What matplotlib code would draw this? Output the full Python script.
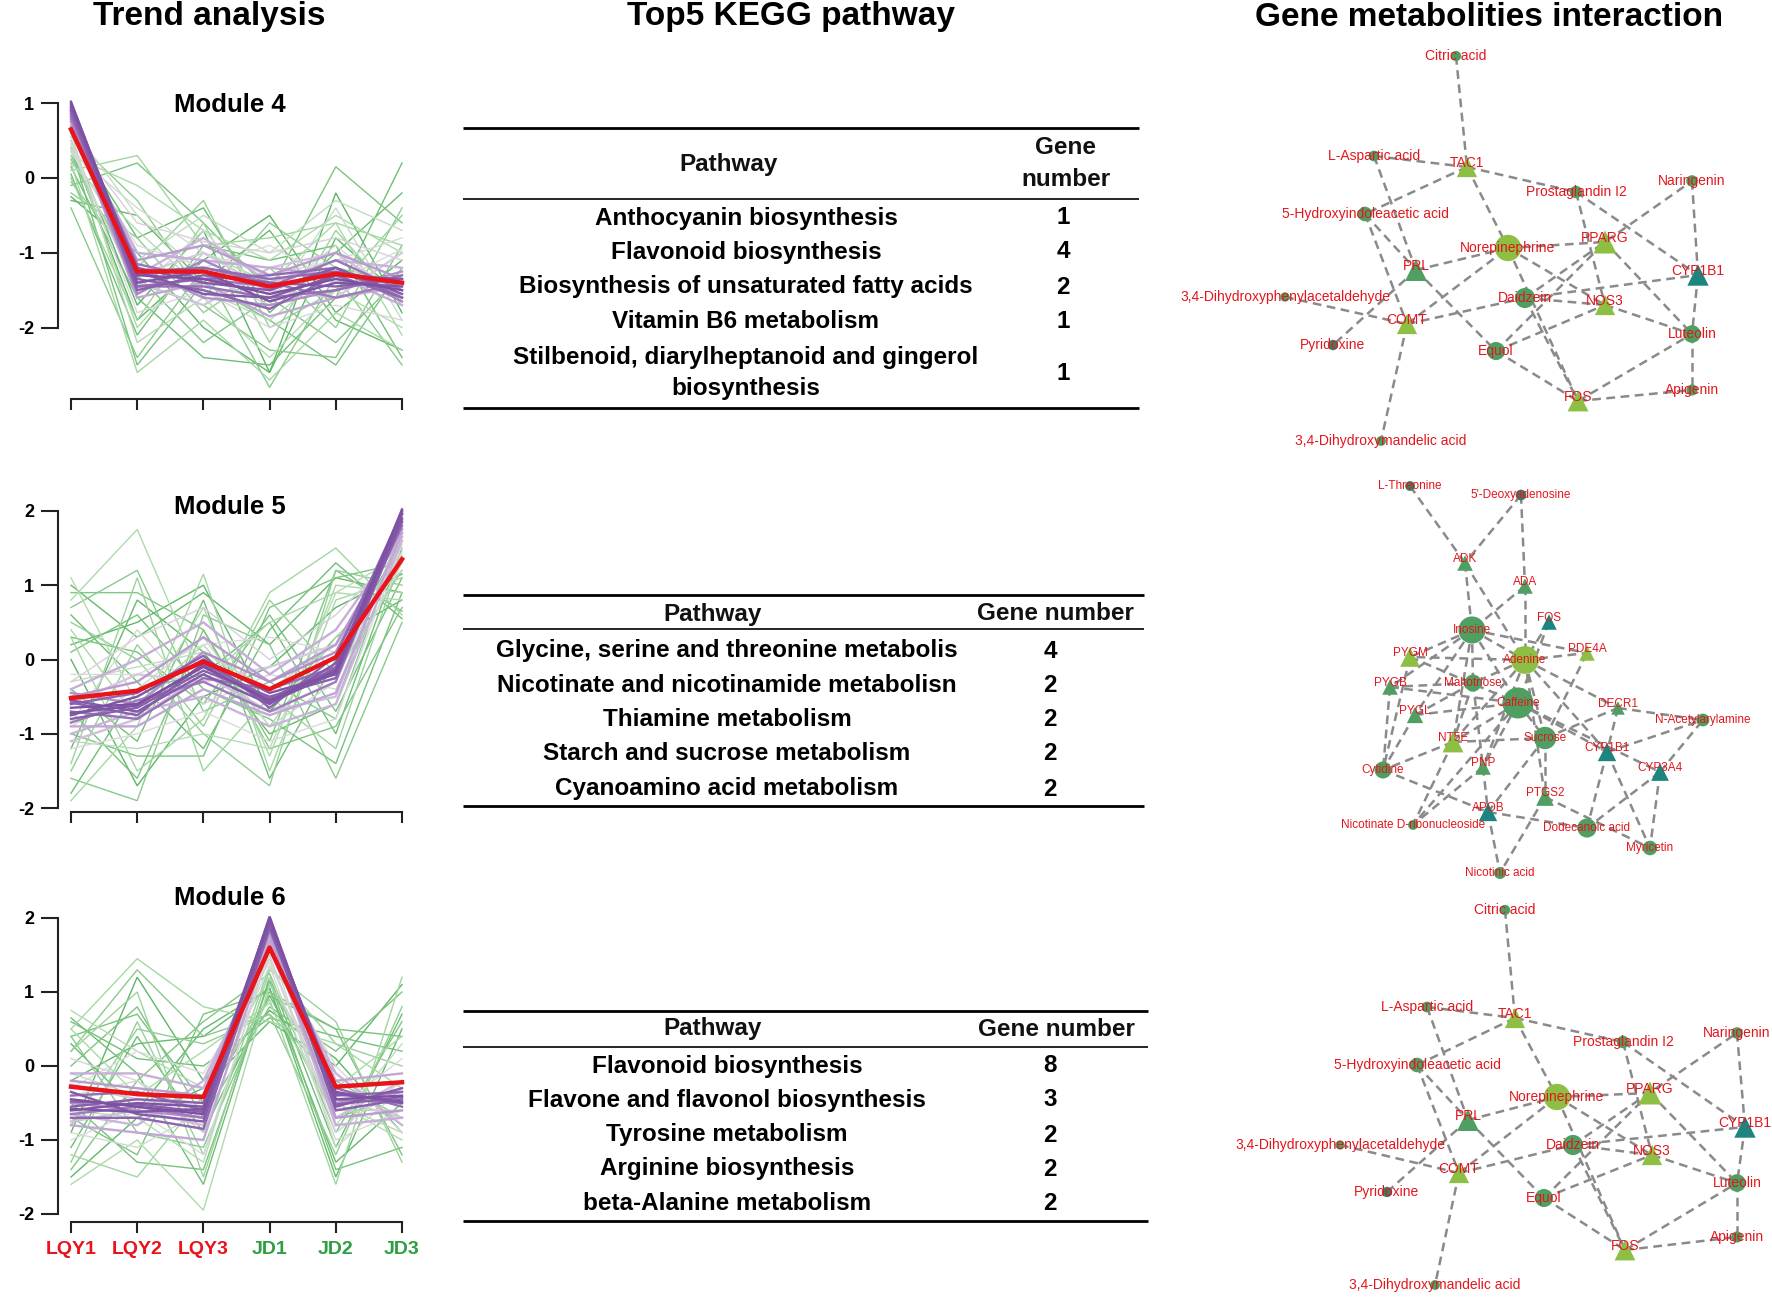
import numpy as np
import matplotlib
matplotlib.use("Agg")
import matplotlib.pyplot as plt
from matplotlib.colors import LinearSegmentedColormap, Normalize

plt.rcParams['font.family'] = ['Liberation Sans', 'DejaVu Sans']

W, H, DPI = 1772, 1297, 100

# ---------------- trend data (z-scores per sample) ----------------
samples = ["LQY1", "LQY2", "LQY3", "JD1", "JD2", "JD3"]
sample_colors = ["#e8131b", "#e8131b", "#e8131b", "#2e9e44", "#2e9e44", "#2e9e44"]

m4_profiles = [
    [1.02, -1.30, -1.35, -1.55, -1.35, -1.50],
    [0.98, -1.40, -1.25, -1.65, -1.40, -1.45],
    [0.95, -1.20, -1.40, -1.50, -1.20, -1.55],
    [0.92, -1.50, -1.30, -1.40, -1.45, -1.35],
    [0.90, -1.35, -1.50, -1.75, -1.30, -1.60],
    [0.88, -1.25, -1.20, -1.35, -1.25, -1.40],
    [0.85, -1.45, -1.45, -1.60, -1.50, -1.30],
    [0.82, -1.15, -1.35, -1.45, -1.10, -1.50],
    [0.80, -1.10, -0.90, -1.30, -1.00, -1.35],
    [0.75, -1.60, -1.40, -1.85, -1.60, -1.45],
    [0.70, -1.00, -1.10, -1.20, -1.30, -1.70],
    [0.65, -1.30, -0.80, -1.40, -1.10, -1.20],
    [0.55, -0.60, -0.85, -1.00, -0.80, -1.10],
    [0.50, -1.80, -1.50, -2.00, -1.70, -1.90],
    [0.45, -0.90, -1.20, -0.90, -1.40, -0.95],
    [0.40, -1.50, -0.70, -1.60, -0.90, -1.65],
    [0.35, -0.40, -1.00, -1.30, -1.10, -0.80],
    [0.60, -2.20, -1.60, -2.40, -1.50, -2.00],
    [0.30, -0.10, -0.70, -1.10, -0.50, -1.00],
    [0.20, -2.60, -1.90, -2.70, -1.80, -2.30],
    [0.10, 0.30, -0.90, -0.80, -0.60, -0.90],
    [0.00, -1.90, -0.60, -2.20, -0.70, -1.70],
    [-0.20, -0.80, -1.80, -1.20, -2.00, -0.40],
    [-0.40, -2.40, -1.20, -2.80, -1.30, -2.50],
    [0.25, -1.30, -2.20, -1.60, -2.20, -1.30],
    [-0.10, 0.20, -0.60, -1.50, 0.15, -0.60],
    [0.40, -2.50, -1.40, -1.90, -2.50, -1.20],
    [0.15, -1.60, -2.40, -2.50, -1.60, 0.20],
    [-0.30, -0.50, -1.40, -0.70, -1.90, -2.30],
    [0.50, -1.70, -0.70, -2.60, -0.20, -1.80],
    [0.35, -1.10, -0.50, -1.00, -0.30, -0.70],
    [0.20, -0.70, -1.50, -1.90, -1.20, -1.50],
    [0.45, -2.00, -1.00, -1.40, -0.60, -2.10],
    [-0.05, -1.20, -0.30, -2.00, -1.50, -0.50],
    [0.55, -0.30, -1.60, -0.60, -1.20, -1.40],
    [0.30, -1.40, -1.70, -2.30, -2.40, -0.90],
    [0.05, -2.10, -0.90, -1.10, -0.90, -2.40],
    [0.60, -0.80, -0.40, -1.80, -1.00, -0.20],
    [-0.25, -1.00, -2.00, -2.60, -0.80, -1.60],
    [0.40, -1.90, -1.10, -0.50, -1.80, -1.10],
    [0.70, -0.50, -1.30, -1.70, -0.40, -1.90],
    [0.75, -1.30, -1.00, -1.50, -1.60, -1.00],
    [0.68, -1.40, -1.70, -1.20, -1.00, -1.60],
    [0.85, -1.20, -1.60, -1.70, -1.50, -1.25],
    [0.78, -1.55, -1.10, -1.50, -1.20, -1.65],
    [0.95, -1.30, -1.20, -1.40, -1.60, -1.40],
    [1.00, -1.25, -1.55, -1.60, -1.30, -1.35],
    [0.90, -1.45, -1.35, -1.30, -1.20, -1.60],
]
m4_member = [0.98, 0.97, 0.96, 0.95, 0.94, 0.93, 0.92, 0.91,
             0.84, 0.82, 0.80, 0.78,
             0.68, 0.66, 0.64, 0.62, 0.60,
             0.50, 0.48, 0.46, 0.45, 0.44, 0.42, 0.40, 0.38, 0.37, 0.36, 0.34, 0.32, 0.30,
             0.55, 0.52, 0.47, 0.43, 0.41, 0.39, 0.35, 0.33, 0.31, 0.30,
             0.58, 0.70, 0.72, 0.86, 0.88, 0.90, 0.96, 0.93]
m4_center = [0.65, -1.25, -1.25, -1.45, -1.28, -1.40]

m5_profiles = [
    [-0.65, -0.60, -0.10, -0.55, -0.15, 2.02],
    [-0.75, -0.50, 0.00, -0.45, -0.20, 1.90],
    [-0.55, -0.70, -0.20, -0.60, -0.05, 1.95],
    [-0.80, -0.65, -0.15, -0.50, -0.25, 1.85],
    [-0.60, -0.45, 0.05, -0.65, 0.05, 1.98],
    [-0.70, -0.80, -0.25, -0.40, -0.10, 1.80],
    [-0.50, -0.30, 0.30, -0.30, 0.20, 1.75],
    [-0.90, -0.90, -0.40, -0.75, -0.45, 1.70],
    [-0.40, 0.00, 0.50, -0.20, 0.40, 1.65],
    [-1.00, -0.70, -0.50, -0.90, -0.60, 1.60],
    [-0.30, 0.30, 0.70, 0.00, 0.60, 1.50],
    [-1.20, -1.00, -0.70, -1.10, -0.80, 1.55],
    [-0.20, -0.20, 0.20, 0.30, 0.10, 1.40],
    [-0.85, 0.40, -0.60, -0.20, -0.40, 1.30],
    [1.10, -0.60, 0.20, -0.90, 0.30, 1.20],
    [0.80, 1.75, -0.30, 0.50, 0.90, 0.80],
    [-1.90, -0.90, 1.15, -1.50, 0.80, 1.10],
    [0.30, -1.50, -0.80, 0.90, 1.50, 0.60],
    [-1.40, 1.10, -1.50, -0.50, -1.20, 1.40],
    [0.50, 0.00, -1.00, -1.70, 1.20, 1.00],
    [-1.60, -1.90, 0.60, 0.20, -1.60, 0.50],
    [0.90, 0.90, 0.40, -1.20, -0.90, 0.70],
    [-1.00, -1.30, -1.30, 0.70, 1.10, 1.30],
    [0.10, 0.60, -0.40, -0.80, -1.40, 0.90],
    [-0.40, -1.10, 0.80, -1.60, 0.00, 1.60],
    [0.60, -0.30, -1.20, 0.40, 1.30, 0.55],
    [-1.20, 0.80, 0.10, -1.00, -0.60, 1.80],
    [0.00, -1.70, -0.50, -0.10, 0.70, 1.15],
    [-0.30, -0.10, 0.10, -0.40, 0.20, 1.45],
    [0.40, -0.80, 0.70, -1.30, 1.00, 0.90],
    [-1.50, 0.20, -0.90, 0.80, -0.20, 1.20],
    [0.70, 1.20, -0.70, -0.30, -0.80, 1.70],
    [-0.70, -1.60, 0.40, -1.10, 1.20, 0.65],
    [-1.80, -0.40, -0.20, 0.50, -1.00, 1.50],
    [0.20, 0.50, 1.00, -0.70, 0.30, 0.80],
    [-1.10, -1.20, -1.00, -1.20, 0.90, 1.40],
    [-0.90, -0.40, 0.30, -0.90, -0.30, 1.65],
    [-0.60, -0.20, -0.30, -0.10, 0.20, 1.70],
    [-1.10, -0.80, -0.20, -0.70, -0.50, 1.75],
    [-0.45, -0.60, 0.10, -0.30, 0.10, 1.85],
    [-0.85, -0.55, -0.30, -0.70, -0.30, 1.88],
    [-0.58, -0.75, -0.05, -0.52, -0.12, 1.96],
    [-0.72, -0.62, -0.08, -0.58, -0.18, 2.00],
    [0.30, 0.10, -0.60, 0.60, -0.70, 1.10],
    [1.00, 0.30, 0.90, 0.20, 1.10, 0.90],
]
m5_member = [0.98, 0.97, 0.96, 0.95, 0.94, 0.92,
             0.84, 0.82, 0.80, 0.78,
             0.68, 0.65, 0.63, 0.60,
             0.50, 0.48, 0.46, 0.45, 0.44, 0.42, 0.40, 0.38, 0.37, 0.36, 0.35, 0.34, 0.32, 0.30,
             0.55, 0.47, 0.43, 0.40, 0.37, 0.34, 0.31, 0.52, 0.58, 0.70, 0.74, 0.86, 0.90,
             0.95, 0.97, 0.36, 0.32]
m5_center = [-0.52, -0.42, -0.03, -0.40, 0.03, 1.35]

m6_profiles = [
    [-0.45, -0.55, -0.65, 2.02, -0.45, -0.40],
    [-0.60, -0.50, -0.55, 1.95, -0.35, -0.50],
    [-0.35, -0.65, -0.75, 1.90, -0.55, -0.30],
    [-0.55, -0.45, -0.50, 1.98, -0.60, -0.45],
    [-0.70, -0.70, -0.85, 1.85, -0.40, -0.35],
    [-0.40, -0.35, -0.60, 1.92, -0.30, -0.55],
    [-0.20, -0.30, -0.40, 1.80, -0.70, -0.60],
    [-0.80, -0.90, -1.00, 1.70, -0.20, -0.10],
    [-0.10, -0.10, -0.30, 1.75, -0.80, -0.70],
    [-0.65, -0.80, -0.20, 1.65, -0.10, -0.80],
    [0.10, -0.20, -0.90, 1.50, -0.90, -0.20],
    [-1.00, -0.60, -1.20, 1.55, 0.00, -0.90],
    [-0.30, 0.20, -0.10, 1.40, -0.60, 0.10],
    [-0.90, -1.10, -0.60, 1.35, -1.00, -0.60],
    [0.75, 0.20, -0.30, 1.20, -0.50, -1.00],
    [-1.60, -1.00, -1.95, 1.10, -0.30, 0.40],
    [0.50, 1.45, 0.80, 0.60, 0.30, -0.30],
    [-1.20, -1.50, -0.40, 0.90, -1.60, 1.20],
    [0.20, 1.00, -1.50, 1.30, 0.60, -1.30],
    [-0.80, 0.50, 0.30, 0.70, -1.20, 0.80],
    [0.40, -0.90, -1.10, 1.00, -0.10, -0.80],
    [-1.40, -0.20, 0.60, 1.25, -0.90, 0.60],
    [0.00, 0.80, -0.70, 0.80, 0.20, 1.00],
    [-0.50, -1.30, -1.40, 1.15, -1.40, -1.10],
    [0.60, 0.10, 0.00, 0.65, 0.40, 0.20],
    [-1.10, 0.40, -0.90, 0.95, -0.70, -0.40],
    [0.30, -0.60, 0.50, 1.05, -1.50, 0.50],
    [-0.90, 1.20, -0.20, 0.75, 0.10, -0.90],
    [-0.10, -0.40, -0.50, 1.45, -0.80, 0.30],
    [0.50, -0.40, 0.20, 0.85, -0.60, -0.60],
    [-1.30, 0.60, -1.20, 1.35, 0.30, 0.00],
    [0.20, 1.30, 0.40, 0.70, -0.20, -0.70],
    [-0.70, -1.20, 0.70, 1.00, 0.50, -1.20],
    [0.65, -0.10, -1.60, 1.20, -1.10, 0.70],
    [-1.50, -0.70, -0.30, 0.60, 0.00, 1.10],
    [-0.60, -0.70, -1.30, 1.60, -0.50, -0.90],
    [-0.40, -0.20, -0.70, 1.65, -1.10, -0.30],
    [-0.25, -0.45, -0.55, 1.72, -0.45, -0.70],
    [-0.75, -0.60, -0.80, 1.78, -0.70, -0.20],
    [-0.50, -0.60, -0.70, 1.88, -0.50, -0.35],
    [-0.65, -0.55, -0.70, 1.95, -0.45, -0.50],
    [-0.48, -0.52, -0.62, 2.00, -0.52, -0.42],
    [-0.58, -0.62, -0.58, 1.97, -0.38, -0.48],
    [0.40, 0.70, -0.50, 0.95, 0.50, 0.40],
    [-0.20, 0.30, 0.40, 1.05, -1.30, -0.50],
]
m6_member = m5_member
m6_center = [-0.28, -0.38, -0.42, 1.60, -0.28, -0.22]

# ---------------- KEGG tables ----------------
t1_pathways = ["Anthocyanin biosynthesis", "Flavonoid biosynthesis",
               "Biosynthesis of unsaturated fatty acids", "Vitamin B6 metabolism",
               "Stilbenoid, diarylheptanoid and gingerol\nbiosynthesis"]
t1_genes = [1, 4, 2, 1, 1]
t2_pathways = ["Glycine, serine and threonine metabolis",
               "Nicotinate and nicotinamide metabolisn", "Thiamine metabolism",
               "Starch and sucrose metabolism", "Cyanoamino acid metabolism"]
t2_genes = [4, 2, 2, 2, 2]
t3_pathways = ["Flavonoid biosynthesis", "Flavone and flavonol biosynthesis",
               "Tyrosine metabolism", "Arginine biosynthesis", "beta-Alanine metabolism"]
t3_genes = [8, 3, 2, 2, 2]

# ---------------- networks (layout positions) ----------------
netA_names = ["Citric acid", "L-Aspartic acid", "TAC1", "5-Hydroxyindoleacetic acid",
              "Norepinephrine", "PRL", "3,4-Dihydroxyphenylacetaldehyde", "COMT",
              "Pyridoxine", "Daidzein", "Equol", "Prostaglandin I2", "Naringenin",
              "PPARG", "CYP1B1", "NOS3", "Luteolin", "FOS", "Apigenin",
              "3,4-Dihydroxymandelic acid"]
netA_kind = ["o", "o", "^", "o", "o", "^", "o", "^", "o", "o", "o", "o", "o",
             "^", "^", "^", "o", "^", "o", "o"]
netA_col = ["g", "g", "yg", "g", "yg", "g", "g", "yg", "dg", "g", "g", "g", "g",
            "yg", "teal", "yg", "g", "yg", "g", "g"]
netA_size = [55, 60, 170, 110, 360, 200, 45, 170, 55, 210, 170, 80, 70,
             220, 190, 170, 160, 180, 65, 50]
net1_x = [1456, 1374, 1467, 1365, 1508, 1416, 1285, 1407, 1333, 1525, 1496, 1576, 1692,
          1605, 1698, 1605, 1692, 1578, 1692, 1381]
net1_y = [56, 156, 167, 214, 248, 270, 297, 324, 345, 298, 351, 192, 181,
          242, 275, 305, 334, 401, 390, 441]
net3_x = [1505, 1427, 1515, 1417, 1557, 1468, 1340, 1459, 1387, 1573, 1544, 1623, 1737,
          1650, 1745, 1652, 1737, 1625, 1737, 1435]
net3_y = [910, 1007, 1018, 1065, 1097, 1120, 1145, 1173, 1192, 1145, 1198, 1042, 1033,
          1093, 1127, 1155, 1183, 1250, 1237, 1285]
netA_edges = [
    ("Citric acid", "TAC1"), ("L-Aspartic acid", "TAC1"), ("L-Aspartic acid", "PRL"),
    ("TAC1", "5-Hydroxyindoleacetic acid"), ("TAC1", "Prostaglandin I2"),
    ("TAC1", "Norepinephrine"), ("Prostaglandin I2", "CYP1B1"), ("Prostaglandin I2", "NOS3"),
    ("5-Hydroxyindoleacetic acid", "PRL"), ("5-Hydroxyindoleacetic acid", "COMT"),
    ("PRL", "Norepinephrine"), ("PRL", "Pyridoxine"), ("PRL", "Equol"),
    ("3,4-Dihydroxyphenylacetaldehyde", "COMT"), ("COMT", "Norepinephrine"),
    ("COMT", "Daidzein"), ("COMT", "3,4-Dihydroxymandelic acid"),
    ("Norepinephrine", "PPARG"), ("Norepinephrine", "NOS3"), ("Norepinephrine", "FOS"),
    ("Daidzein", "FOS"), ("Daidzein", "CYP1B1"), ("Daidzein", "NOS3"),
    ("Daidzein", "Naringenin"), ("Equol", "PPARG"), ("Equol", "NOS3"), ("Equol", "FOS"),
    ("Naringenin", "CYP1B1"), ("PPARG", "Luteolin"), ("NOS3", "Luteolin"),
    ("CYP1B1", "Luteolin"), ("Luteolin", "Apigenin"), ("FOS", "Luteolin"),
    ("FOS", "Apigenin"),
]

net2_names = ["L-Threonine", "5'-Deoxyadenosine", "ADK", "ADA", "FOS", "Inosine",
              "Adenine", "PYGM", "PYGB", "Maltotriose", "Caffeine", "PYGL", "NT5E",
              "Sucrose", "Cytidine", "PNP", "PTGS2", "PDE4A", "DECR1", "N-Acetylarylamine",
              "CYP1B1", "CYP3A4", "APOB", "Nicotinate D-ribonucleoside", "Dodecanoic acid",
              "Myricetin", "Nicotinic acid"]
net2_kind = ["o", "o", "^", "^", "^", "o", "o", "^", "^", "o", "o", "^", "^",
             "o", "o", "^", "^", "^", "^", "o", "^", "^", "^", "o", "o", "o", "o"]
net2_col = ["dg", "dg", "g", "g", "teal", "g", "yg", "yg", "g", "g", "g", "g", "yg",
            "g", "g", "g", "g", "yg", "g", "g", "teal", "teal", "teal", "g", "g", "g", "g"]
net2_size = [50, 60, 100, 100, 100, 380, 400, 160, 100, 150, 500, 110, 180,
             260, 150, 100, 130, 100, 75, 85, 140, 130, 140, 50, 190, 110, 75]
net2_x = [1410, 1521, 1465, 1525, 1549, 1472, 1525, 1410, 1390, 1473, 1518, 1415, 1453,
          1545, 1383, 1483, 1545, 1587, 1618, 1703, 1607, 1660, 1488, 1413, 1587, 1650, 1500]
net2_y = [486, 495, 563, 586, 622, 630, 660, 657, 687, 683, 703, 715, 742,
          738, 770, 767, 797, 653, 708, 720, 752, 772, 812, 825, 828, 848, 873]
net2_edges = [
    ("L-Threonine", "ADK"), ("5'-Deoxyadenosine", "ADK"), ("5'-Deoxyadenosine", "ADA"),
    ("ADA", "Adenine"), ("ADK", "Inosine"), ("ADK", "Adenine"), ("ADA", "Inosine"),
    ("FOS", "Adenine"), ("FOS", "Caffeine"), ("Inosine", "PYGM"), ("Inosine", "PYGB"),
    ("Inosine", "PYGL"), ("Inosine", "Maltotriose"), ("Inosine", "Adenine"),
    ("Inosine", "NT5E"), ("Inosine", "PDE4A"), ("Inosine", "Caffeine"),
    ("Adenine", "PYGM"), ("Adenine", "Maltotriose"), ("Adenine", "NT5E"),
    ("Adenine", "PNP"), ("Adenine", "Sucrose"), ("Adenine", "PDE4A"),
    ("Adenine", "CYP1B1"), ("Adenine", "PTGS2"), ("Adenine", "DECR1"),
    ("PYGM", "Cytidine"), ("PYGM", "Caffeine"), ("PYGB", "Maltotriose"),
    ("PYGB", "Caffeine"), ("PYGB", "Cytidine"), ("PYGL", "Caffeine"), ("PYGL", "Cytidine"),
    ("PYGL", "Maltotriose"), ("Maltotriose", "NT5E"), ("Maltotriose", "PNP"),
    ("Caffeine", "NT5E"), ("Caffeine", "CYP1B1"), ("Caffeine", "PNP"),
    ("Caffeine", "Sucrose"), ("Caffeine", "CYP3A4"), ("Caffeine", "Nicotinate D-ribonucleoside"),
    ("NT5E", "Sucrose"), ("NT5E", "Cytidine"), ("NT5E", "Nicotinate D-ribonucleoside"),
    ("Sucrose", "PTGS2"), ("Sucrose", "DECR1"), ("Sucrose", "APOB"), ("Sucrose", "PDE4A"),
    ("Cytidine", "APOB"), ("PNP", "APOB"), ("PNP", "Nicotinate D-ribonucleoside"),
    ("APOB", "Nicotinic acid"), ("APOB", "Dodecanoic acid"), ("PTGS2", "Nicotinic acid"),
    ("PTGS2", "Myricetin"), ("DECR1", "CYP1B1"), ("DECR1", "N-Acetylarylamine"),
    ("CYP1B1", "N-Acetylarylamine"), ("CYP1B1", "Dodecanoic acid"), ("CYP1B1", "Myricetin"),
    ("CYP3A4", "N-Acetylarylamine"), ("CYP3A4", "Dodecanoic acid"), ("CYP3A4", "Myricetin"),
]

node_colors = {"g": "#4f9f62", "yg": "#8dbf45", "dg": "#3b7d63", "teal": "#1d857f"}
label_red = "#e3161d"
edge_grey = "#8a8a8a"

# ---------------- figure ----------------
fig = plt.figure(figsize=(W / DPI, H / DPI), dpi=DPI)

canvas = fig.add_axes([0, 0, 1, 1])
canvas.set_xlim(0, W)
canvas.set_ylim(H, 0)
canvas.axis('off')
canvas.patch.set_visible(False)


def px_axes(left, top, right, bottom):
    return fig.add_axes([left / W, 1 - bottom / H, (right - left) / W, (bottom - top) / H])


trend_cmap = LinearSegmentedColormap.from_list(
    "mfuzz", ["#5cb565", "#aadaa8", "#dcdcdc", "#c6acd9", "#7d50a3"])
norm = Normalize(0.3, 0.98)

X1_PX, X_UNIT = 71, 66.2


def draw_trend(profiles, member, center, title, title_y, y0_px, y_unit, yticks, show_labels):
    data = np.array(profiles, dtype=float)
    lo = min(data.min(), min(center))
    hi = max(data.max(), max(center))
    pad = 0.04 * (hi - lo)
    ylo, yhi = lo - pad, hi + pad
    ax = px_axes(X1_PX - 0.2 * X_UNIT, y0_px - y_unit * yhi,
                 X1_PX + 5.2 * X_UNIT, y0_px - y_unit * ylo)
    ax.set_xlim(0.8, 6.2)
    ax.set_ylim(ylo, yhi)
    ax.patch.set_visible(False)
    x = np.arange(1, 7)
    for i in np.argsort(member):
        m = member[i]
        ax.plot(x, data[i], color=trend_cmap(norm(m)), lw=1.0 if m < 0.7 else 1.7,
                zorder=1 + m, solid_joinstyle='miter')
    ax.plot(x, center, color="#e8131b", lw=3.2, zorder=5)

    for s in ["top", "right"]:
        ax.spines[s].set_visible(False)
    for s in ["left", "bottom"]:
        ax.spines[s].set_linewidth(1.5)
        ax.spines[s].set_color("#222222")
    ax.spines["left"].set_bounds(yticks[0], yticks[-1])
    ax.spines["bottom"].set_bounds(1, 6)
    ax.set_yticks(yticks)
    ax.set_yticklabels([str(t) for t in yticks], fontsize=13, fontweight='bold')
    ax.set_xticks(x)
    ax.tick_params(axis='y', length=12, width=1.5, pad=5, color="#222222")
    ax.tick_params(axis='x', length=8, width=1.5, pad=6, color="#222222")
    if show_labels:
        ax.set_xticklabels(samples, fontsize=14, fontweight='bold')
        for lab, c in zip(ax.get_xticklabels(), sample_colors):
            lab.set_color(c)
    else:
        ax.set_xticklabels([])
    fig.text(230 / W, 1 - title_y / H, title, ha='center', va='center',
             fontsize=18.5, fontweight='bold')


draw_trend(m4_profiles, m4_member, m4_center, "Module 4", 105, 178, 74.8, [-2, -1, 0, 1], False)
draw_trend(m5_profiles, m5_member, m5_center, "Module 5", 507, 659.5, 74.3, [-2, -1, 0, 1, 2], False)
draw_trend(m6_profiles, m6_member, m6_center, "Module 6", 898, 1066, 74.0, [-2, -1, 0, 1, 2], True)

# column titles
for tx, ttl in [(209, "Trend analysis"), (791, "Top5 KEGG pathway"),
                (1489, "Gene metabolities interaction")]:
    fig.text(tx / W, 1 - 17 / H, ttl, ha='center', va='center', fontsize=24, fontweight='bold')


def draw_table(pathways, genes, x0, x1, lines_y, header_y, row_y, path_hx, gene_hx,
               gene_header, path_x, num_x):
    top, mid, bot = lines_y
    canvas.plot([x0, x1], [top, top], color="black", lw=2.0, solid_capstyle='butt')
    canvas.plot([x0, x1], [mid, mid], color="black", lw=1.2, solid_capstyle='butt')
    canvas.plot([x0, x1], [bot, bot], color="black", lw=2.0, solid_capstyle='butt')
    canvas.text(path_hx, header_y, "Pathway", ha='center', va='center',
                fontsize=17.5, fontweight='bold', color="#111111")
    canvas.text(gene_hx, header_y, gene_header, ha='center', va='center',
                fontsize=17.5, fontweight='bold', linespacing=1.5, color="#111111")
    for name, g, y in zip(pathways, genes, row_y):
        canvas.text(path_x, y, name, ha='center', va='center', fontsize=17.5,
                    fontweight='bold', linespacing=1.45)
        canvas.text(num_x, y, str(g), ha='center', va='center', fontsize=17.5,
                    fontweight='bold')


draw_table(t1_pathways, t1_genes, 463, 1139, (128, 199, 408), 164,
           [218, 252, 287, 322, 373], 729, 1066, "Gene\nnumber", 746, 1063)
draw_table(t2_pathways, t2_genes, 463, 1144, (595, 629, 806), 614,
           [651, 685, 720, 754, 789], 713, 1055, "Gene number", 727, 1050)
draw_table(t3_pathways, t3_genes, 463, 1148, (1011, 1047, 1221), 1029,
           [1066, 1100, 1135, 1169, 1204], 713, 1056, "Gene number", 727, 1050)


def draw_network(names, xs, ys, kinds, cols, sizes, edges, fsize):
    pos = {n: (x, y) for n, x, y in zip(names, xs, ys)}
    for a, b in edges:
        (xa, ya), (xb, yb) = pos[a], pos[b]
        canvas.plot([xa, xb], [ya, yb], color=edge_grey, lw=1.8,
                    linestyle=(0, (3.5, 2.2)), zorder=1)
    for n, x, y, k, c, s in zip(names, xs, ys, kinds, cols, sizes):
        canvas.scatter([x], [y], s=s * (1.25 if k == "^" else 1.0), marker=k,
                       color=node_colors[c], edgecolors='none', zorder=2)
        canvas.text(x, y - (4 if k == "^" else 0), n, ha='center', va='center',
                    fontsize=fsize, color=label_red, zorder=3)


draw_network(netA_names, net1_x, net1_y, netA_kind, netA_col, netA_size, netA_edges, 10)
draw_network(net2_names, net2_x, net2_y, net2_kind, net2_col, net2_size, net2_edges, 8.5)
draw_network(netA_names, net3_x, net3_y, netA_kind, netA_col, netA_size, netA_edges, 10)

fig.savefig("out.png", dpi=DPI)
